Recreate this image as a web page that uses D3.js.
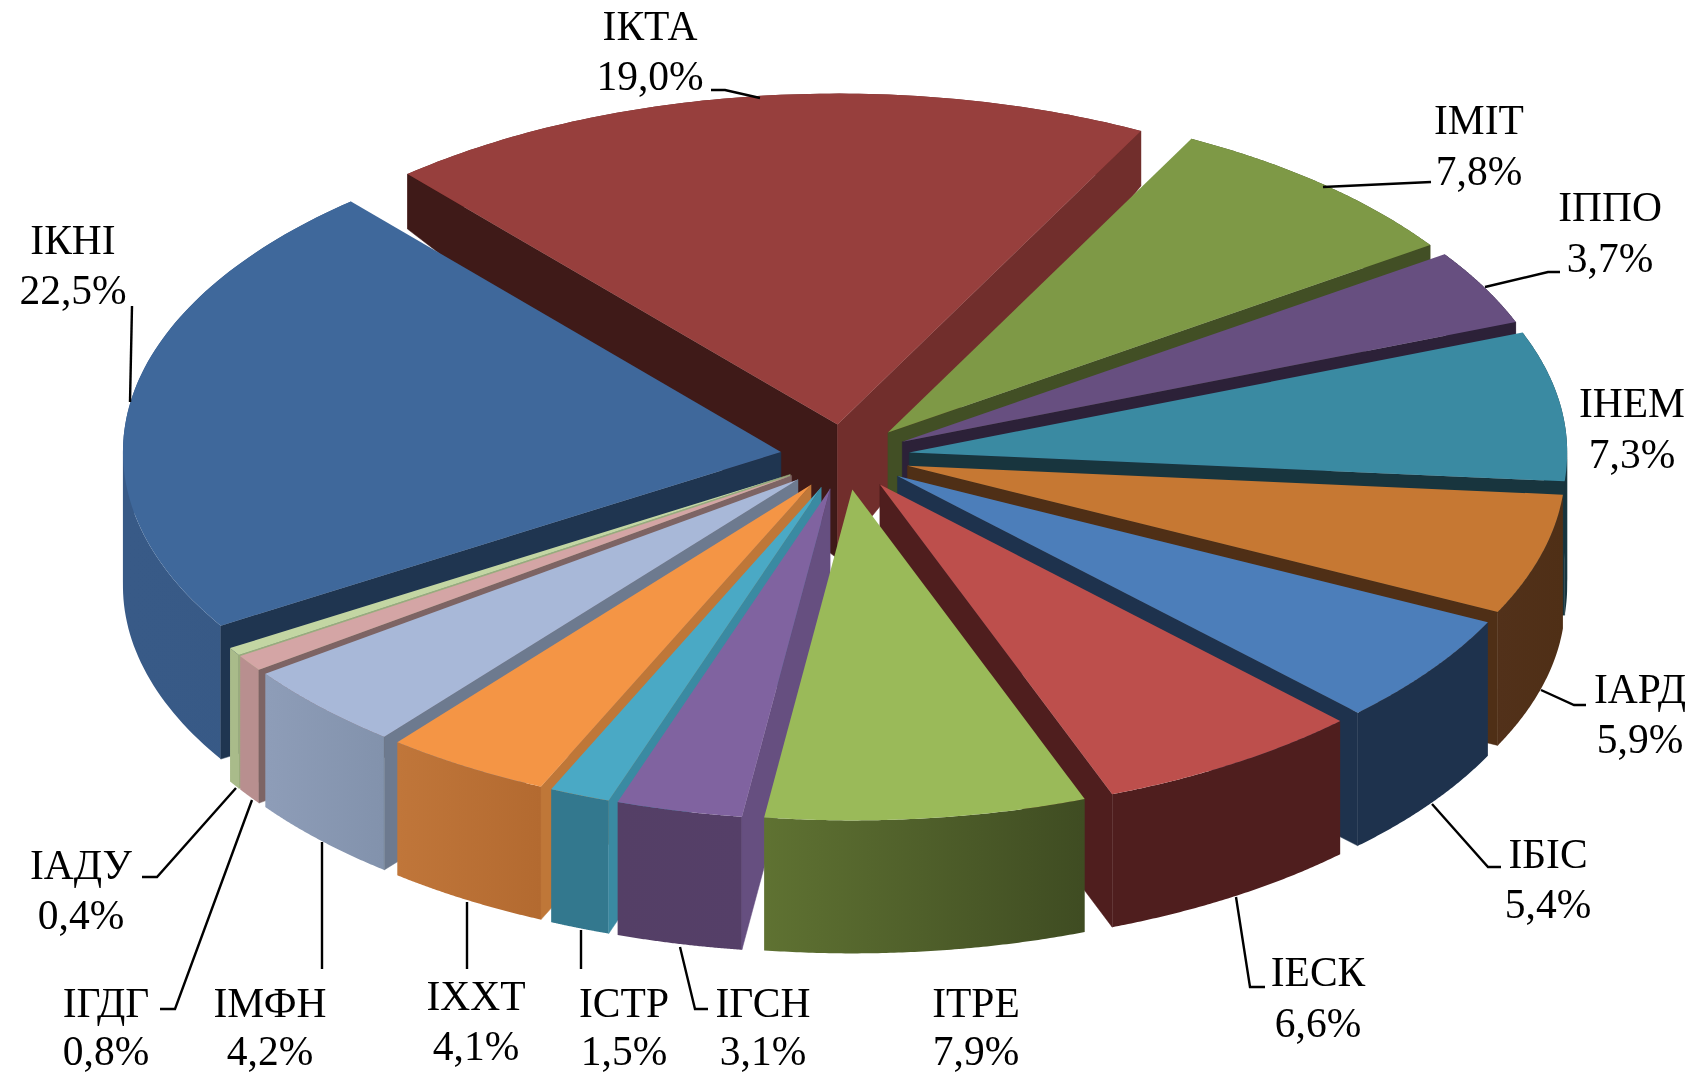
<!DOCTYPE html>
<html><head><meta charset="utf-8">
<script src="https://cdn.jsdelivr.net/npm/d3@7"></script>
<style>html,body{margin:0;padding:0;background:#fff}svg{display:block;filter:blur(0.6px)}
text{font-family:"Liberation Serif","Times New Roman",serif;font-size:41.5px;fill:#000;text-anchor:middle;dominant-baseline:central}</style>
</head><body><svg id="c" width="1703" height="1075"></svg>
<script>
// Data, clockwise from the first slice
const categories = ["ІКТА","ІМІТ","ІППО","ІНЕМ","ІАРД","ІБІС","ІЕСК","ІТРЕ","ІГСН","ІСТР","ІХХТ","ІМФН","ІГДГ","ІАДУ","ІКНІ"];
const shares = [19.0,7.8,3.7,7.3,5.9,5.4,6.6,7.9,3.1,1.5,4.1,4.2,0.8,0.4,22.5];
// Styles
const topColors  = ["#973f3d","#7e9946","#674f80","#3a8aa2","#c67833","#4c7eba","#bd4f4c","#9aba59","#8063a0","#4aa9c5","#f49545","#a8b8d8","#d4a5a5","#c3d6a3","#3f689b"];
const startFaces = ["#3f1a18","#424f25","#2c2138","#18353e","#4f2f16","#1e324d","#4f1e1e","#3f4c22","#664f80","#3a8aa2","#bf7738","#6d7a8f","#7d6464","#9aad7d","#1f3550"];
const endFaces   = ["#712e2c","#424f25","#2c2138","#18353e","#4f2f16","#1e324d","#4f1e1e","#3f4c22","#664f80","#3a8aa2","#bf7738","#6d7a8f","#7d6464","#9aad7d","#1f3550"];
const wallLeft   = ["#712e2c","#424f25","#2c2138","#18353e","#52311a","#1e324d","#4f1e1e","#5f7232","#543f66","#33788e","#c0763a","#8e9db8","#b88f8f","#a9bb8a","#385a87"];
const wallRight  = ["#712e2c","#424f25","#2c2138","#18353e","#4f2f16","#1e324d","#4f1e1e","#3f4c22","#553f68","#33788e","#b36a30","#8292ac","#b88f8f","#a9bb8a","#375985"];
// Label layout: name centre, value centre, leader polyline
const labelLayout = [
 {n:[650,26],  v:[650,76],  l:[[711,90],[725,90],[760,98]]},
 {n:[1479,120],v:[1479,171],l:[[1431,182],[1323,187]]},
 {n:[1610,207],v:[1610,258],l:[[1560,272],[1548,272],[1485,287]]},
 {n:[1632,403],v:[1632,454],l:[]},
 {n:[1640,689],v:[1640,739],l:[[1586,705],[1574,705],[1541,690]]},
 {n:[1548,854],v:[1548,904],l:[[1501,867],[1488,867],[1432,804]]},
 {n:[1318,972],v:[1318,1023],l:[[1265,987],[1250,987],[1236,897]]},
 {n:[976,1003],v:[976,1051],l:[]},
 {n:[763,1003],v:[763,1051],l:[[708,1009],[695,1009],[680,947]]},
 {n:[624,1003],v:[624,1051],l:[[581,969],[581,930]]},
 {n:[476,996], v:[476,1046],l:[[467,969],[467,902]]},
 {n:[270,1003],v:[270,1051],l:[[322,969],[322,842]]},
 {n:[106,1003],v:[106,1051],l:[[160,1009],[175,1009],[252,800]]},
 {n:[81,865],  v:[81,915],  l:[[142,877],[157,877],[236,788]]},
 {n:[73,240],  v:[73,290],  l:[[132,306],[130,402]]}
];
const rad = Math.PI/180, startDeg = -40.8, explode = 0.0985;
const svg = d3.select("#c");
const defs = svg.append("defs");
const sx = d3.scaleLinear([-1,1],[845-658,845+658]);
const sy = d3.scaleLinear([-1,1],[457-331,457+331]);
const depth = d3.scaleLinear([-0.85,-0.1,1],[55,134,133]).clamp(true);
const line = d3.line().curve(d3.curveLinear);
const pie = d3.pie().sort(null).startAngle(startDeg*rad).endAngle((startDeg+360)*rad);
const arcs = pie(shares).map((a,i)=>({...a,i,mid:(a.startAngle+a.endAngle)/2}));
// plane point of slice a at angle t and radius r
const plane = (a,t,r)=>[explode*Math.sin(a.mid)+r*Math.sin(t), -explode*Math.cos(a.mid)-r*Math.cos(t)];
const top3 = p=>[sx(p[0]),sy(p[1])];
const bot3 = p=>[sx(p[0]),sy(p[1])+depth(p[1])];
const order = arcs.slice().sort((a,b)=>(-Math.cos(a.mid))-(-Math.cos(b.mid)));
const g = svg.append("g").attr("id","pie");
order.forEach(a=>{
  const N = 80;
  const ts = d3.range(0,N+1).map(k=>a.startAngle+(a.endAngle-a.startAngle)*k/N);
  const rim = ts.map(t=>plane(a,t,1)), apex = plane(a,0,0);
  const tops = rim.map(top3), bots = rim.map(bot3);
  const gid = "w"+a.i, xs = tops.map(d=>d[0]);
  const grad = defs.append("linearGradient").attr("id",gid).attr("gradientUnits","userSpaceOnUse")
    .attr("x1",d3.min(xs)).attr("x2",d3.max(xs)).attr("y1",0).attr("y2",0);
  grad.append("stop").attr("offset",0).attr("stop-color",wallLeft[a.i]);
  grad.append("stop").attr("offset",1).attr("stop-color",wallRight[a.i]);
  // outer wall: one polygon per x-monotone run of the rim, so the silhouette holds where the arc turns back
  let from = 0;
  for(let k=1;k<=N;k++){
    const turns = k<N && (tops[k][0]-tops[k-1][0])*(tops[k+1][0]-tops[k][0])<0;
    if(turns||k===N){
      g.append("path").attr("d",line(tops.slice(from,k+1).concat(bots.slice(from,k+1).reverse()))+"Z").attr("fill",`url(#${gid})`);
      from = k;
    }
  }
  const face=(p,c)=>g.append("path").attr("d",line([top3(apex),top3(p),bot3(p),bot3(apex)])+"Z").attr("fill",c).attr("stroke",c).attr("stroke-width",0.5);
  if(Math.sin(a.startAngle)<0) face(rim[0],startFaces[a.i]);
  if(Math.sin(a.endAngle)>0) face(rim[N],endFaces[a.i]);
  g.append("path").attr("d",line([top3(apex)].concat(tops))+"Z").attr("fill",topColors[a.i]);
});
const fmt = v=>v.toFixed(1).replace(".",",")+"%";
labelLayout.forEach((l,i)=>{
  if(l.l.length) svg.append("path").attr("d",line(l.l)).attr("fill","none").attr("stroke","#000").attr("stroke-width",2.4);
  svg.append("text").attr("x",l.n[0]).attr("y",l.n[1]).text(categories[i]);
  svg.append("text").attr("x",l.v[0]).attr("y",l.v[1]).text(fmt(shares[i]));
});
</script></body></html>
